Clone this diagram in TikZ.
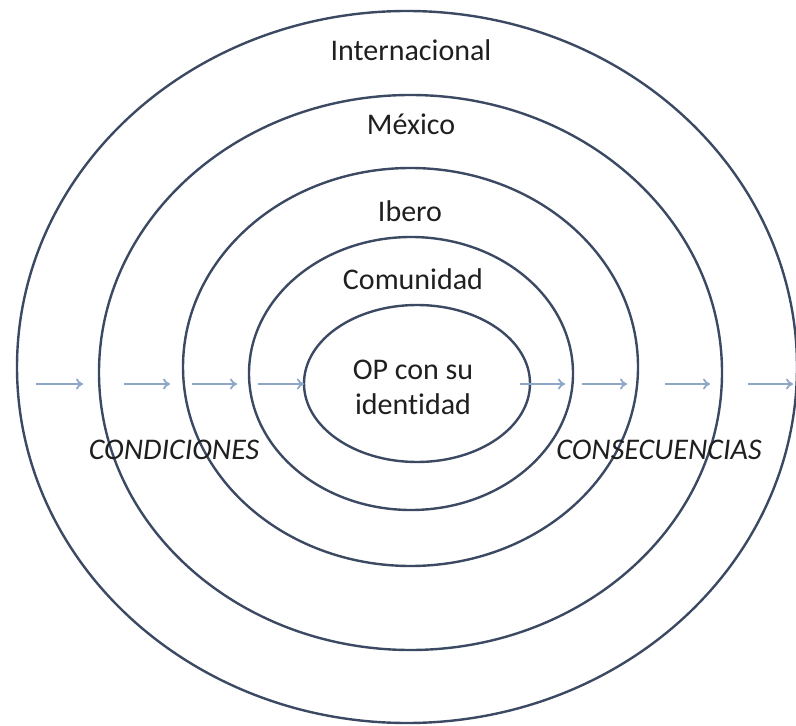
\documentclass[tikz,border=0pt]{standalone}
\usepackage{fontspec}
\setmainfont{Carlito}[Ligatures = NoCommon]
\usetikzlibrary{arrows.meta}
\definecolor{anillo}{HTML}{3B4962}
\definecolor{flecha}{HTML}{8FA7C6}
\definecolor{texto}{HTML}{1F1F1F}

\begin{document}
\begin{tikzpicture}[scale = 1/2, x = 1pt, y = -1pt,
		every node/.style = {text = texto, inner sep = 0pt, font = \fontsize{15}{17.5}\selectfont},
		anillo/.style = {draw = anillo, line width = 1.2pt},
		flecha/.style = {draw = flecha, line width = 0.9pt, -{To[length = 3.5pt, width = 5.5pt]}}]
		\useasboundingbox (0, 0) rectangle (796, 726) ;
		\draw [anillo] (407, 367) ellipse [x radius = 390, y radius = 356] ;
		\draw [anillo] (410.5, 372.5) ellipse [x radius = 311.5, y radius = 277.5] ;
		\draw [anillo] (410.5, 367) ellipse [x radius = 227.5, y radius = 199] ;
		\draw [anillo] (411, 373.5) ellipse [x radius = 162, y radius = 136.5] ;
		\draw [anillo] (417, 383.5) ellipse [x radius = 113, y radius = 78.5] ;
		\node [anchor = base] (internacional) at (411, 61) {Internacional} ;
		\node [anchor = base] (mexico) at (411, 135) {México} ;
		\node [anchor = base] (ibero) at (410, 222) {Ibero} ;
		\node [anchor = base] (comunidad) at (413, 290) {Comunidad} ;
		\node [align = center] (op) at (413, 387) {OP con su\\identidad} ;
		\node [anchor = base, font = \fontsize{15}{17.5}\selectfont\itshape] (condiciones) at (174, 459) {CONDICIONES} ;
		\node [anchor = base, font = \fontsize{15}{17.5}\selectfont\itshape] (consecuencias) at (659, 459) {CONSECUENCIAS} ;
		\foreach \a/\b [count = \i] in {36/83, 124/170, 192/237, 258/304, 520/565, 582/627, 665/710, 748/793} {
			\coordinate (s\i) at (\a, 384) ;
			\coordinate (e\i) at (\b, 384) ;
			\draw [flecha] (s\i) -- (e\i) ;
		}
	\end{tikzpicture}
\end{document}
